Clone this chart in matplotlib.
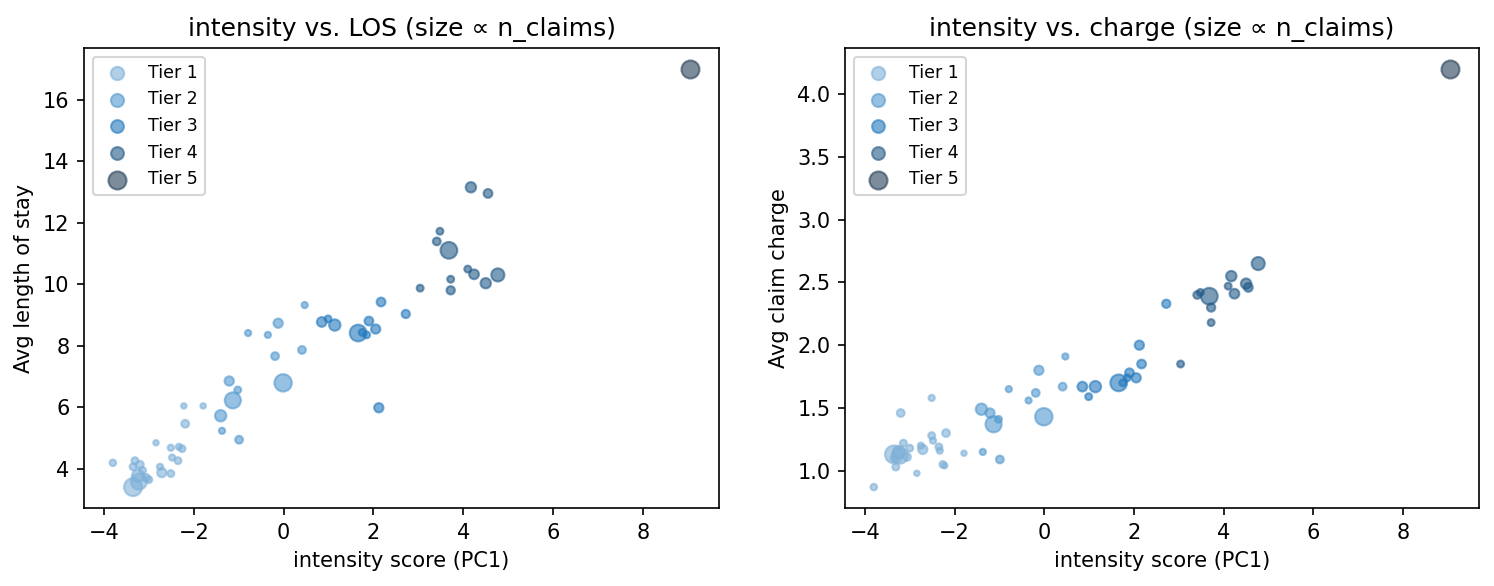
import matplotlib
matplotlib.use("Agg")
import matplotlib.pyplot as plt
import numpy as np

# ---- data ----
intensity = [-3.80, -3.35, -3.22, -3.24, -3.31, -3.35, -3.20, -3.14, -3.06, -3.00,
             -2.84, -2.75, -2.71, -2.51, -2.51, -2.48, -2.35, -2.33, -2.26, -2.22,
             -2.19, -1.79,
             -1.40, -1.37, -1.21, -1.13, -1.02, -0.99, -0.79, -0.35, -0.19, -0.12,
             -0.01, 0.41, 0.47,
             0.85, 0.99, 1.14, 1.66, 1.75, 1.85, 1.90, 2.05, 2.17, 2.12, 2.72,
             3.04, 3.41, 3.48, 3.68, 3.72, 3.72, 4.10, 4.17, 4.24, 4.50, 4.55, 4.77,
             9.05]
avg_los = [4.19, 3.40, 3.58, 3.77, 4.26, 4.06, 4.13, 3.94, 3.70, 3.64,
           4.84, 4.06, 3.87, 3.84, 4.68, 4.36, 4.26, 4.71, 4.65, 6.04,
           5.46, 6.04,
           5.72, 5.23, 6.85, 6.22, 6.56, 4.94, 8.41, 8.35, 7.66, 8.73,
           6.79, 7.86, 9.32,
           8.77, 8.87, 8.67, 8.41, 8.43, 8.35, 8.80, 8.54, 9.42, 5.98, 9.03,
           9.87, 11.39, 11.72, 11.10, 10.16, 9.80, 10.49, 13.15, 10.32, 10.03, 12.95, 10.30,
           17.00]
avg_charge = [0.87, 1.13, 1.12, 1.15, 1.03, 1.10, 1.46, 1.22, 1.11, 1.18,
              0.98, 1.20, 1.17, 1.28, 1.58, 1.24, 1.19, 1.16, 1.05, 1.04,
              1.30, 1.14,
              1.49, 1.15, 1.46, 1.37, 1.41, 1.09, 1.65, 1.56, 1.62, 1.80,
              1.43, 1.67, 1.91,
              1.67, 1.59, 1.67, 1.70, 1.70, 1.74, 1.78, 1.74, 1.85, 2.00, 2.33,
              1.85, 2.40, 2.42, 2.39, 2.18, 2.30, 2.47, 2.55, 2.41, 2.49, 2.46, 2.65,
              4.20]
n_claims = [200, 1500, 1200, 700, 220, 220, 280, 220, 280, 220,
            140, 180, 400, 220, 180, 180, 220, 180, 220, 140,
            280, 140,
            600, 180, 400, 1200, 220, 280, 180, 180, 280, 400,
            1400, 280, 180,
            440, 220, 600, 1300, 220, 220, 360, 400, 360, 400, 320,
            220, 280, 220, 1300, 220, 320, 220, 500, 440, 500, 360, 800,
            1500]
tier = [1] * 22 + [2] * 13 + [3] * 11 + [4] * 12 + [5]

tier_labels = ["Tier 1", "Tier 2", "Tier 3", "Tier 4", "Tier 5"]
tier_colors = ["#7eb0d8", "#5299cf", "#2479bd", "#225a88", "#263f58"]

x = np.array(intensity)
los = np.array(avg_los)
chg = np.array(avg_charge)
sz = np.array(n_claims) / 20.0
tr = np.array(tier)

fig = plt.figure(figsize=(1494 / 150, 586 / 150), dpi=150)
ax1 = fig.add_axes([84 / 1494, 78 / 586, 635 / 1494, 460 / 586])
ax2 = fig.add_axes([845 / 1494, 78 / 586, 634 / 1494, 460 / 586])

for ax, yv, ylab, title in [
    (ax1, los, "Avg length of stay", "intensity vs. LOS (size \u221d n_claims)"),
    (ax2, chg, "Avg claim charge", "intensity vs. charge (size \u221d n_claims)"),
]:
    for k, (lab, col) in enumerate(zip(tier_labels, tier_colors), start=1):
        m = tr == k
        ax.scatter(x[m], yv[m], s=sz[m], color=col, alpha=0.6, label=lab)
    ax.set_xlabel("intensity score (PC1)")
    ax.set_ylabel(ylab)
    ax.set_title(title, fontsize=12)
    ax.legend(loc="upper left", fontsize="small")

ax1.set_xticks([-4, -2, 0, 2, 4, 6, 8])
ax2.set_xticks([-4, -2, 0, 2, 4, 6, 8])

fig.savefig("out.png", dpi=150)
